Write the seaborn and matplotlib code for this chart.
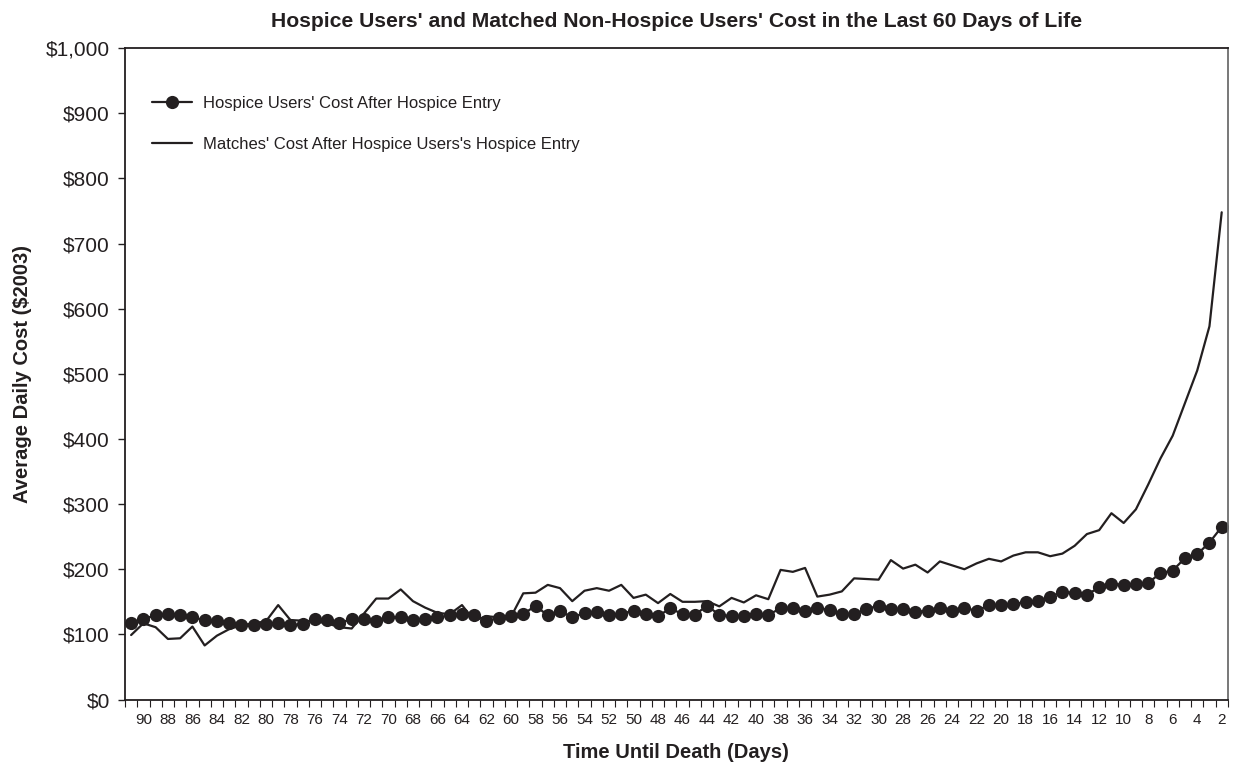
import matplotlib
matplotlib.use("Agg")
import matplotlib.pyplot as plt
import matplotlib.ticker as mticker
import pandas as pd
import seaborn as sns

# days until death, 91 down to 2
days = list(range(91, 1, -1))

hospice_cost = [118, 124, 129, 131, 129, 126, 122, 120, 117, 114,
                115, 116, 118, 114, 116, 123, 122, 118, 123, 124,
                121, 127, 126, 122, 124, 126, 129, 131, 129, 121,
                125, 128, 131, 144, 129, 136, 126, 133, 135, 130,
                132, 136, 132, 128, 140, 131, 130, 144, 130, 128,
                128, 131, 130, 140, 141, 136, 141, 137, 132, 131,
                139, 144, 139, 139, 135, 136, 141, 136, 141, 136,
                145, 145, 147, 149, 151, 158, 165, 164, 161, 172,
                178, 176, 178, 179, 194, 198, 217, 223, 241, 265]

matches_cost = [99, 117, 111, 93, 94, 112, 83, 98, 108, 114,
                117, 120, 145, 122, 121, 120, 117, 111, 109, 132,
                155, 155, 169, 151, 141, 133, 131, 145, 121, 128,
                126, 127, 163, 164, 176, 171, 151, 167, 171, 167,
                176, 156, 161, 148, 162, 150, 150, 151, 143, 156,
                149, 160, 154, 199, 196, 202, 158, 161, 166, 186,
                185, 184, 214, 201, 207, 195, 212, 206, 200, 209,
                216, 212, 221, 226, 226, 220, 224, 236, 254, 260,
                286, 271, 292, 330, 370, 405, 455, 505, 573, 748]

tick_days = list(range(90, 1, -2))

df = pd.DataFrame({"Day": days, "Hospice": hospice_cost, "Matches": matches_cost})

sns.set_style("white")
plt.rcParams["font.family"] = ["Liberation Sans", "DejaVu Sans"]

ink = "#231f20"

fig = plt.figure(figsize=(12.34, 7.64), dpi=100)
ax = fig.add_axes([0.1013, 0.0844, 0.8937, 0.8526])

sns.lineplot(data=df, x="Day", y="Hospice", ax=ax, color=ink, marker="o",
             markersize=9.5, markeredgewidth=0, linewidth=1.6,
             label="Hospice Users' Cost After Hospice Entry")
sns.lineplot(data=df, x="Day", y="Matches", ax=ax, color=ink, linewidth=1.6,
             label="Matches' Cost After Hospice Users's Hospice Entry")

ax.set_xlim(91.5, 1.5)
ax.set_ylim(0, 1000)
ax.set_yticks(range(0, 1001, 100))
ax.yaxis.set_major_formatter(mticker.FuncFormatter(lambda v, p: f"${v:,.0f}"))
ax.set_xticks(tick_days)
ax.set_xticklabels([str(d) for d in tick_days])
ax.xaxis.set_minor_locator(mticker.FixedLocator([d + 0.5 for d in range(91, 0, -1)]))

ax.tick_params(axis="y", which="major", direction="out", length=5, width=1,
               color=ink, labelsize=15, labelcolor=ink, left=True, pad=6)
ax.tick_params(axis="x", which="major", length=0, labelsize=11, labelcolor=ink, pad=10)
ax.tick_params(axis="x", which="minor", direction="out", length=5, width=0.8,
               color=ink, bottom=True)

for side in ["left", "bottom", "top", "right"]:
    ax.spines[side].set_visible(True)
    ax.spines[side].set_color(ink)
    ax.spines[side].set_linewidth(1.3)
ax.spines["right"].set_color("#6d6d6d")

ax.set_xlabel("Time Until Death (Days)", fontsize=14.5, fontweight="bold",
              color=ink, labelpad=11)
ax.set_ylabel("Average Daily Cost ($2003)", fontsize=14.5, fontweight="bold",
              color=ink, labelpad=10)
ax.set_title("Hospice Users' and Matched Non-Hospice Users' Cost in the Last 60 Days of Life",
             fontsize=15.2, fontweight="bold", color=ink, pad=15)

ax.legend(loc="upper left", bbox_to_anchor=(0.0107, 0.9497), frameon=False,
          fontsize=12, handlelength=2.4, labelspacing=1.57, handletextpad=0.7,
          labelcolor=ink)

fig.savefig("out.png", dpi=100)
